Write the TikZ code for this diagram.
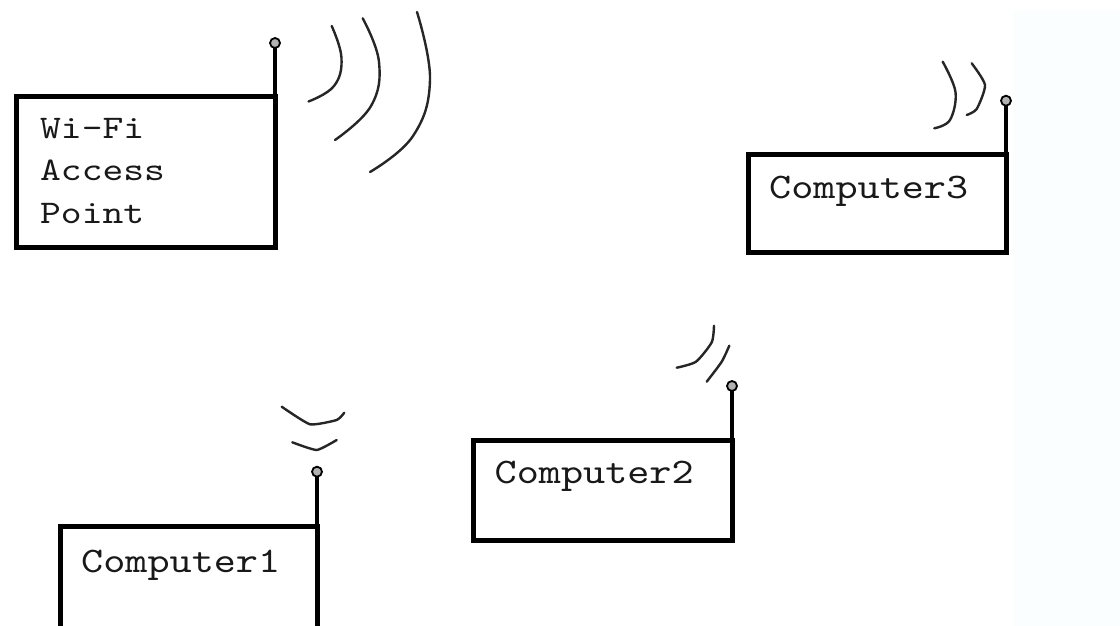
\documentclass[tikz,border=0pt]{standalone}
\usepackage{fontspec}
\newfontfamily\apmono{lmmono10-regular.otf}[FakeStretch=1.2]
\newfontfamily\pcmono{lmmono10-regular.otf}[FakeStretch=1.17]
\definecolor{tipgray}{RGB}{178,178,178}
\definecolor{paleside}{RGB}{251,254,254}
\tikzset{
  devbox/.style={draw=black, line width=5pt, rectangle, inner sep=0pt, outer sep=0pt},
  antline/.style={draw=black, line width=3.2pt},
  tipdot/.style={circle, draw=black, line width=1.8pt, fill=tipgray, minimum size=10pt, inner sep=0pt, outer sep=0pt},
  wave/.style={draw=black!85, line width=2.4pt, line cap=round, line join=round},
  label/.style={anchor=base west, inner sep=0pt, text=black!90},
}
\begin{document}
\begin{tikzpicture}[x=1pt, y=-1pt]
\clip (0,0) rectangle (1120,626);
\fill[white] (0,0) rectangle (1120,626);
\fill[paleside] (1013,10) rectangle (1120,626);

% Wi-Fi access point
\node[devbox, minimum width=259pt, minimum height=150pt] (ap) at (145.5,172) {};
\node[label, align=left, font=\apmono\fontsize{33}{42.3}\selectfont] (aptext) at (40,223) {Wi-Fi\\Access\\Point};
\node[tipdot] (aptip) at (275,43) {};
\draw[antline] (ap.north east) -- (aptip.south);
\draw[wave] plot[smooth, tension=0.7] coordinates {(331.7,26) (341.5,58) (334,86) (308.5,101.5)};
\draw[wave] plot[smooth, tension=0.7] coordinates {(362.7,18.3) (379,62) (371,106) (335,140)};
\draw[wave] plot[smooth, tension=0.7] coordinates {(417,12) (430,80) (413,136) (370,172)};

% Computer3
\node[devbox, minimum width=258pt, minimum height=98pt] (c3) at (877,203) {};
\node[label, font=\pcmono\fontsize{36}{40}\selectfont] (c3text) at (769,198) {Computer3};
\node[tipdot] (c3tip) at (1006,100.7) {};
\draw[antline] (c3.north east) -- (c3tip.south);
\draw[wave] plot[smooth, tension=0.6] coordinates {(942.7,61.7) (955.5,92) (950,120) (934.3,128.3)};
\draw[wave] plot[smooth, tension=0.4] coordinates {(971.7,63.3) (985,85) (976.7,109) (966.7,115)};

% Computer2
\node[devbox, minimum width=259pt, minimum height=100pt] (c2) at (602.5,490) {};
\node[label, font=\pcmono\fontsize{36}{40}\selectfont] (c2text) at (494.5,483) {Computer2};
\node[tipdot] (c2tip) at (732,386) {};
\draw[antline] (c2.north east) -- (c2tip.south);
\draw[wave] plot[smooth, tension=0.4] coordinates {(676.7,367.7) (696,361.7) (711.7,342.3) (714,325.7)};
\draw[wave] plot[smooth, tension=0.4] coordinates {(706.7,381.7) (721.7,361.7) (729.3,345.7)};

% Computer1
\node[devbox, minimum width=257pt, minimum height=110pt] (c1) at (188.5,581) {};
\node[label, font=\pcmono\fontsize{36}{40}\selectfont] (c1text) at (81,572) {Computer1};
\node[tipdot] (c1tip) at (317,471.7) {};
\draw[antline] (c1.north east) -- (c1tip.south);
\draw[wave] plot[smooth, tension=0.3] coordinates {(281.7,406.7) (310,424.3) (336.7,420) (344.3,412.7)};
\draw[wave] plot[smooth, tension=0.3] coordinates {(292.3,442.3) (316.7,450) (336.7,440)};
\end{tikzpicture}
\end{document}
